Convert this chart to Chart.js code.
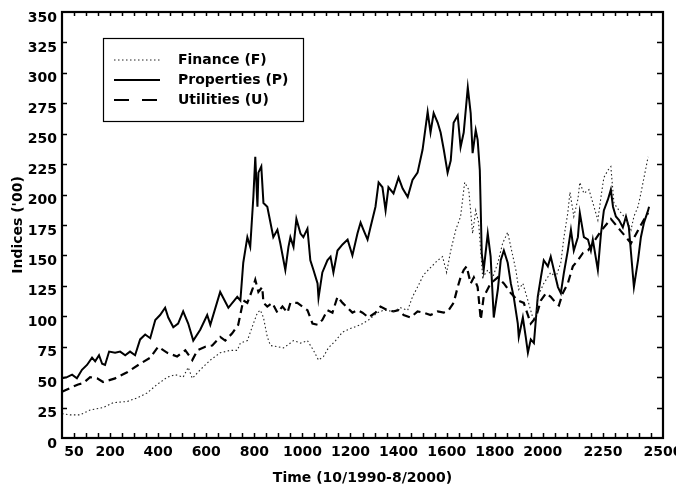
<!DOCTYPE html>
<html><head><meta charset="utf-8">
<script src="https://cdn.jsdelivr.net/npm/chart.js@4.4.1/dist/chart.umd.min.js"></script>
<style>html,body{margin:0;padding:0;background:#fff}canvas{display:block}</style>
</head><body>
<canvas id="c" width="676" height="491"></canvas>
<script>
// ---- data ----
const xTickLabels = [50,200,400,600,800,1000,1200,1400,1600,1800,2000,2250,2500];
const seriesNames = ['Finance (F)','Properties (P)','Utilities (U)'];

const financeT = [0,33,75,117,171,213,271,313,354,396,438,471,504,525,542,575,617,658,700,729,742,771,796,813,825,838,854,867,896,921,950,963,992,1021,1046,1067,1088,1108,1138,1167,1200,1242,1275,1313,1338,1379,1408,1438,1458,1479,1504,1533,1563,1583,1600,1617,1638,1658,1675,1692,1708,1721,1733,1750,1771,1792,1813,1833,1854,1867,1888,1900,1917,1938,1958,1971,1979,2004,2033,2054,2075,2088,2104,2113,2129,2146,2154,2171,2192,2213,2229,2242,2254,2271,2283,2296,2317,2338,2354,2367,2379,2396,2408,2421,2438];
const financeV = [20,19,19,23,25,29,30,33,37,44,50,52,50,58,49,56,64,70,72,72,78,80,94,103,105,99,83,76,75,74,78,80,78,80,72,64,67,74,80,87,90,93,97,103,105,104,107,105,116,124,134,140,146,149,136,154,171,182,210,204,168,187,177,132,138,132,144,160,169,157,138,122,127,113,99,97,116,127,136,132,144,165,185,202,182,196,210,201,204,190,179,198,214,220,223,193,187,182,177,171,182,190,201,214,231];

const propertiesT = [0,21,42,62,83,104,125,138,154,167,179,196,221,242,263,283,304,325,346,367,388,408,429,442,463,483,504,525,546,575,604,617,658,692,729,742,754,771,783,796,804,813,817,829,838,854,867,879,896,908,929,942,950,963,975,992,1004,1021,1033,1046,1063,1067,1083,1104,1117,1129,1146,1167,1188,1208,1229,1242,1254,1271,1283,1304,1317,1333,1346,1358,1379,1400,1417,1438,1458,1479,1500,1521,1533,1546,1563,1575,1588,1604,1617,1629,1646,1658,1671,1688,1700,1708,1721,1729,1738,1746,1754,1771,1783,1796,1813,1825,1838,1854,1867,1879,1896,1900,1917,1929,1938,1950,1963,1979,1992,2004,2021,2033,2046,2063,2075,2088,2104,2117,2129,2146,2154,2171,2188,2200,2208,2229,2242,2254,2271,2283,2292,2304,2317,2333,2346,2358,2367,2379,2396,2408,2421,2438,2442];
const propertiesV = [49,50,52,49,56,60,66,63,68,61,60,71,70,71,68,71,68,81,85,82,97,101,107,99,91,94,104,94,80,89,101,93,120,107,116,113,144,165,157,198,231,190,218,223,193,190,177,165,171,160,138,157,165,157,180,168,165,172,146,138,127,115,136,146,149,136,154,159,163,150,168,177,171,163,173,190,210,206,187,206,201,214,205,198,212,218,237,268,251,267,259,251,237,218,228,259,265,239,251,288,267,234,253,245,220,152,138,168,149,99,122,146,154,144,127,116,94,83,99,83,70,81,78,116,132,146,141,149,138,124,119,136,154,171,154,165,185,165,163,154,163,138,168,187,196,204,190,182,179,173,182,173,152,124,146,165,177,187,190];

const utilitiesT = [0,33,67,88,117,146,171,221,271,325,367,400,438,479,513,542,563,596,625,658,679,708,733,754,771,792,804,817,833,838,854,875,896,917,938,950,979,1000,1021,1042,1063,1083,1104,1125,1146,1167,1188,1208,1229,1250,1275,1304,1325,1354,1379,1400,1421,1450,1479,1504,1533,1563,1588,1608,1629,1646,1658,1671,1683,1700,1713,1729,1742,1754,1783,1813,1838,1867,1896,1921,1950,1971,1992,2013,2033,2054,2067,2083,2104,2125,2146,2167,2188,2208,2242,2283,2325,2367,2408,2438];
const utilitiesV = [38,41,44,45,50,49,46,49,54,61,66,75,70,67,72,64,72,75,76,83,80,86,93,113,111,122,130,120,124,111,108,111,103,108,103,111,111,108,105,94,93,97,105,103,116,111,107,103,105,103,99,103,108,105,104,105,101,99,104,103,101,104,103,105,111,124,132,138,141,127,132,124,97,116,127,132,127,119,113,111,94,99,113,119,116,111,109,119,127,141,146,152,154,160,170,180,170,160,175,185];

const pts = (t, v) => t.map((x, i) => ({x, y: v[i]}));

Chart.defaults.font.family = 'DejaVu Sans';
Chart.defaults.font.size = 14;
Chart.defaults.font.weight = 'bold';
Chart.defaults.color = '#000';

const legendDash = [[1.5, 2.5], [], [15, 13]];

const framePlugin = {
  id: 'frame',
  afterDraw(chart) {
    const {ctx, chartArea: a, scales: {x, y}} = chart;
    ctx.save();
    ctx.strokeStyle = '#000';
    ctx.lineWidth = 1.5;
    ctx.beginPath();
    for (let v = 50; v < x.max; v += 50) {
      const px = Math.round(x.getPixelForValue(v)) + 0.5;
      ctx.moveTo(px, a.bottom); ctx.lineTo(px, a.bottom - 5);
      ctx.moveTo(px, a.top); ctx.lineTo(px, a.top + 4);
    }
    for (let v = 25; v < y.max; v += 25) {
      const py = Math.round(y.getPixelForValue(v)) + 0.5;
      ctx.moveTo(a.left, py); ctx.lineTo(a.left + 5, py);
      ctx.moveTo(a.right, py); ctx.lineTo(a.right - 6, py);
    }
    ctx.stroke();
    ctx.lineWidth = 2.2;
    ctx.strokeRect(a.left, a.top, a.right - a.left, a.bottom - a.top);

    // legend box
    const bx = 103.5, by = 38.5, bw = 200, bh = 83;
    ctx.fillStyle = '#fff';
    ctx.fillRect(bx, by, bw, bh);
    ctx.lineWidth = 1.2;
    ctx.strokeRect(bx, by, bw, bh);
    ctx.font = 'bold 14px "DejaVu Sans"';
    ctx.textBaseline = 'middle';
    ctx.fillStyle = '#000';
    chart.data.datasets.forEach((ds, i) => {
      const ly = 60 + i * 20;
      ctx.beginPath();
      ctx.setLineDash(legendDash[i]);
      ctx.lineWidth = i === 0 ? 1 : 2;
      ctx.strokeStyle = ds.borderColor;
      ctx.moveTo(114, ly); ctx.lineTo(160, ly);
      ctx.stroke();
      ctx.setLineDash([]);
      ctx.fillText(ds.label, 178, ly);
    });
    ctx.restore();
  }
};

new Chart(document.getElementById('c'), {
  type: 'line',
  data: {
    datasets: [
      {label: seriesNames[0], data: pts(financeT, financeV), borderColor: '#222', borderWidth: 1.1, borderDash: [1.5, 2.5]},
      {label: seriesNames[1], data: pts(propertiesT, propertiesV), borderColor: '#000', borderWidth: 2},
      {label: seriesNames[2], data: pts(utilitiesT, utilitiesV), borderColor: '#000', borderWidth: 2.2, borderDash: [8, 5]}
    ]
  },
  options: {
    responsive: false,
    animation: false,
    devicePixelRatio: 1,
    layout: {padding: {left: 0, right: 13, top: 12, bottom: 0}},
    elements: {point: {radius: 0}, line: {tension: 0}},
    plugins: {legend: {display: false}, tooltip: {enabled: false}},
    scales: {
      x: {
        type: 'linear', min: 0, max: 2500,
        grid: {display: false, drawTicks: false},
        border: {display: false},
        afterBuildTicks: s => { s.ticks = xTickLabels.map(v => ({value: v})); },
        ticks: {padding: 6, maxRotation: 0, autoSkip: false, callback: v => String(v)},
        title: {display: true, text: 'Time (10/1990-8/2000)', padding: {top: 0, bottom: 4}},
        afterFit: s => { s.height = 53; s.paddingLeft = 0; s.paddingRight = 0; }
      },
      y: {
        min: 0, max: 350,
        grid: {display: false, drawTicks: false},
        border: {display: false},
        ticks: {stepSize: 25, padding: 5, labelOffset: 6},
        title: {display: true, text: "Indices ('00)", padding: {top: 10, bottom: 0}},
        afterFit: s => { s.width = 62; s.paddingTop = 0; s.paddingBottom = 0; }
      }
    }
  },
  plugins: [framePlugin]
});
</script>
</body></html>
